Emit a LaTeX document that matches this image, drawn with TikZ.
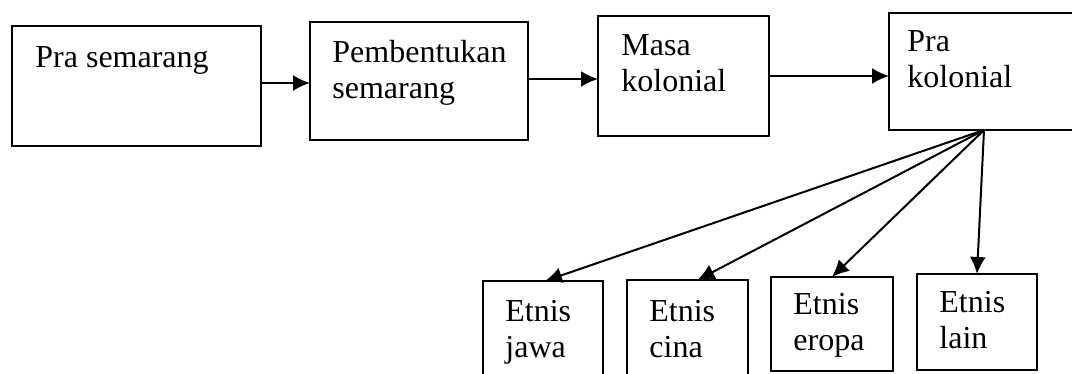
\documentclass[tikz,border=0pt]{standalone}
\usepackage{fontspec}
\setmainfont{Liberation Serif}
\usetikzlibrary{arrows.meta,calc}
\begin{document}
\begin{tikzpicture}[x=0.5pt,y=-0.5pt,
  box/.style={draw=black,line width=1pt,anchor=north west,inner sep=0pt,outer sep=0pt},
  txt/.style={anchor=north west,inner sep=0pt,align=left,font=\fontsize{16}{18}\selectfont},
  arr/.style={line width=1pt,-{Latex[length=8.5pt,width=8pt]}}]
\clip (0,0) rectangle (1072,374);
\fill[white] (0,0) rectangle (1072,374);
% top row boxes
\node[box,minimum width=124.5pt,minimum height=60pt] (ps) at (12,26) {};
\node[box,minimum width=109pt,minimum height=59pt] (pb) at (310,22) {};
\node[box,minimum width=85.5pt,minimum height=60pt] (ms) at (598,16) {};
\node[box,minimum width=105.5pt,minimum height=58.5pt] (pk) at (889,13) {};
% bottom row boxes
\node[box,minimum width=60pt,minimum height=54.5pt] (jw) at (483,281) {};
\node[box,minimum width=60.5pt,minimum height=55pt] (cn) at (627,280) {};
\node[box,minimum width=61pt,minimum height=47pt] (er) at (771,277) {};
\node[box,minimum width=60pt,minimum height=48pt] (ln) at (917,274) {};
% texts
\node[txt] (tps) at (35,46) {Pra semarang};
\node[txt] (tpb) at (332,40) {Pembentukan\\semarang};
\node[txt] (tms) at (621,34) {Masa\\kolonial};
\node[txt] (tpk) at (907,30) {Pra\\kolonial};
\node[txt] (tjw) at (505,300) {Etnis\\jawa};
\node[txt] (tcn) at (649,300) {Etnis\\cina};
\node[txt] (ter) at (793,293) {Etnis\\eropa};
\node[txt] (tln) at (939,291) {Etnis\\lain};
% horizontal arrows
\draw[arr] ([yshift=1.5pt]ps.east) -- ([yshift=1.5pt]ps.east -| pb.west);
\draw[arr] ([yshift=1pt]pb.east) -- ([yshift=1pt]pb.east -| ms.west);
\draw[arr] (ms.east) -- (ms.east -| pk.west);
% fan
\coordinate (fan) at ([xshift=47.5pt]pk.south west);
\draw[arr] (fan) -- ([xshift=1pt]jw.north);
\draw[arr] (fan) -- ([xshift=5pt]cn.north);
\draw[arr] (fan) -- (er.north);
\draw[arr] (fan) -- (ln.north);
\end{tikzpicture}
\end{document}
